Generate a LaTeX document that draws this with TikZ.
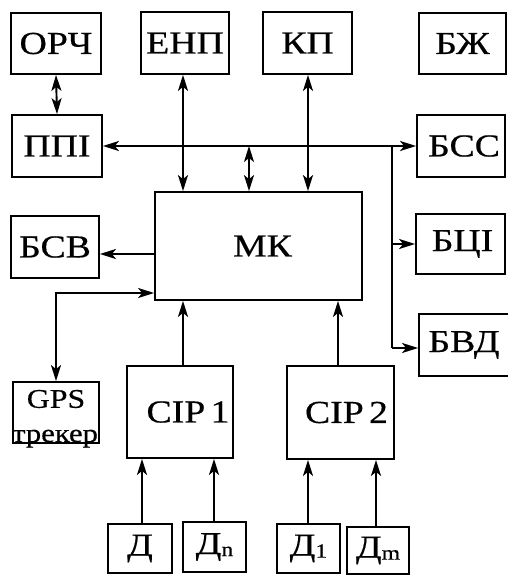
\documentclass[tikz,border=0pt]{standalone}
\usepackage{fontspec}
\setmainfont[FakeStretch=1.18,FakeBold=0.5]{Liberation Serif}
\usetikzlibrary{arrows.meta}
\begin{document}
\begin{tikzpicture}[x=1pt,y=-1pt,
  box/.style={draw,line width=1.8pt,inner sep=0pt,font=\fontsize{32}{32}\selectfont},
  conn/.style={line width=1.9pt},
  >={Stealth[length=16pt,width=10pt,inset=4pt]}]
\useasboundingbox[fill=white] (0,0) rectangle (507,575);
% boxes: center, width, height
\node[box,minimum width=90pt,minimum height=61pt] (orch) at (56,43.5) {ОРЧ};
\node[box,minimum width=88pt,minimum height=62pt] (enp) at (185,43) {ЕНП};
\node[box,minimum width=89pt,minimum height=62pt] (kp) at (307.5,43) {КП};
\node[box,minimum width=87pt,minimum height=61pt] (bzh) at (462.5,43.5) {БЖ};
\node[box,minimum width=90pt,minimum height=62pt] (ppi) at (57,146) {ППІ};
\node[box,minimum width=88pt,minimum height=62pt] (bss) at (461,146) {\hspace*{6pt}БСС};
\node[box,minimum width=207pt,minimum height=108pt] (mk) at (258.5,246) {\hspace*{8pt}МК};
\node[box,minimum width=88pt,minimum height=62pt] (bsv) at (55,247) {БСВ};
\node[box,minimum width=89pt,minimum height=60pt] (bci) at (460.5,244) {\hspace*{4pt}БЦІ};
\node[box,minimum width=90pt,minimum height=62pt] (bvd) at (464,345) {БВД};
\node[draw,line width=1.8pt,minimum width=86pt,minimum height=61pt,inner sep=0pt] (gps) at (56,412.5) {};
\node[font=\fontsize{27}{27}\selectfont,inner sep=0pt] (gpst) at (56,399) {GPS};
\node[font=\fontsize{26}{26}\selectfont,inner sep=0pt,anchor=base] (trek) at (55,442) {трекер};
\node[box,minimum width=106pt,minimum height=92pt] (cip1) at (180,412) {\hspace*{16pt}СІР\,1};
\node[box,minimum width=107pt,minimum height=93pt] (cip2) at (340.5,412.5) {\hspace*{12pt}СІР\,2};
\node[box,minimum width=64pt,minimum height=49pt] (d) at (140,548.5) {Д};
\node[box,minimum width=63pt,minimum height=50pt] (dn) at (214.5,547) {Д\raisebox{-2pt}{\fontsize{20}{20}\selectfont n}};
\node[box,minimum width=63pt,minimum height=49pt] (d1) at (308.5,548.5) {Д\raisebox{-2pt}{\fontsize{20}{20}\selectfont 1}};
\node[box,minimum width=62pt,minimum height=47pt] (dm) at (378,550.5) {Д\raisebox{-2pt}{\fontsize{20}{20}\selectfont m}};
% reference coordinates
\coordinate (busR) at (392,146);
\coordinate (xe) at (183,0);
\coordinate (xm) at (249,0);
\coordinate (xk) at (308,0);
\coordinate (xc2) at (338,0);
\coordinate (xd) at (142,0);
\coordinate (xdn) at (214,0);
\coordinate (xd1) at (308,0);
\coordinate (xdm) at (376,0);
\coordinate (ybsv) at (0,254);
\coordinate (ygps) at (0,293);
\coordinate (ybci) at (0,244);
\coordinate (ybvd) at (0,348);
% connectors
\draw[conn,<->] (orch.south) -- (ppi.north);
\draw[conn,->] (busR) -- (ppi.east);
\draw[conn,->] (busR) -- (bss.west);
\draw[conn] (busR) -- (busR |- ybvd);
\draw[conn,->] (busR |- ybci) -- (bci.west |- ybci);
\draw[conn,->] (busR |- ybvd) -- (bvd.west |- ybvd);
\draw[conn,<->] (enp.south -| xe) -- (mk.north -| xe);
\draw[conn,<->] (busR -| xm) -- (mk.north -| xm);
\draw[conn,<->] (kp.south -| xk) -- (mk.north -| xk);
\draw[conn,->] (mk.west |- ybsv) -- (bsv.east |- ybsv);
\draw[conn,<->] (gps.north) |- (mk.west |- ygps);
\draw[conn,->] (cip1.north -| xe) -- (mk.south -| xe);
\draw[conn,->] (cip2.north -| xc2) -- (mk.south -| xc2);
\draw[conn,->] (d.north -| xd) -- (cip1.south -| xd);
\draw[conn,->] (dn.north -| xdn) -- (cip1.south -| xdn);
\draw[conn,->] (d1.north -| xd1) -- (cip2.south -| xd1);
\draw[conn,->] (dm.north -| xdm) -- (cip2.south -| xdm);
\end{tikzpicture}
\end{document}
